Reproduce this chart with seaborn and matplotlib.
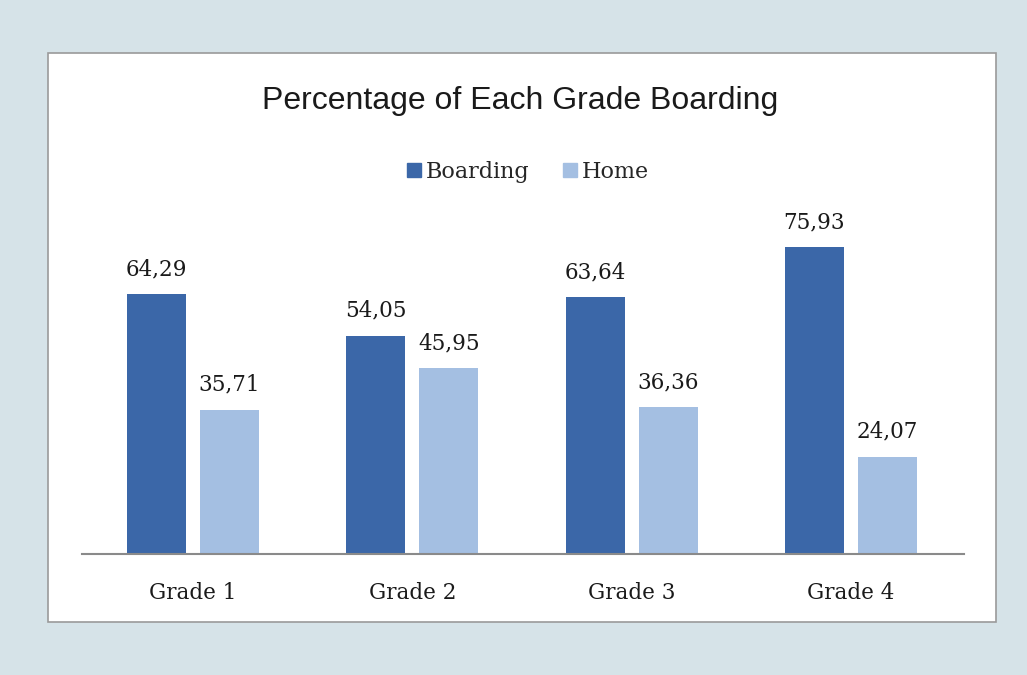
import numpy as np
import pandas as pd
import seaborn as sns
import matplotlib.pyplot as plt
from matplotlib.patches import Rectangle
from matplotlib.lines import Line2D

grades = ["Grade 1", "Grade 2", "Grade 3", "Grade 4"]
boarding = [64.29, 54.05, 63.64, 75.93]
home = [35.71, 45.95, 36.36, 24.07]
groups = ["Boarding", "Home"]
colors = ["#3B67A8", "#A4BFE2"]

df = pd.DataFrame({
    "grade": grades * 2,
    "value": boarding + home,
    "group": ["Boarding"] * len(grades) + ["Home"] * len(grades),
})

sns.set_theme(style="white")
plt.rcParams['font.family'] = ['DejaVu Serif']

W, H = 1027, 675
fig = plt.figure(figsize=(W / 100, H / 100), dpi=100)
fig.patch.set_facecolor("#D6E3E8")
# white panel behind the chart
fig.patches.append(Rectangle((48 / W, 1 - 622 / H), (996 - 48) / W, (622 - 53) / H,
                             transform=fig.transFigure, facecolor="white",
                             edgecolor="#9a9a9a", linewidth=1.2, zorder=-5))

left, right = 82, 964
ax = fig.add_axes([left / W, 1 - 554 / H, (right - left) / W, (554 - 200) / H])
ax.set_zorder(2)
ax.set_facecolor("none")
sns.barplot(data=df, x="grade", y="value", hue="group", palette=colors,
            width=0.666, gap=0.19, ax=ax, legend=False, saturation=1,
            edgecolor="none")

for cont in ax.containers:
    ax.bar_label(cont, labels=[f"{v:.2f}".replace(".", ",") for v in cont.datavalues],
                 padding=10, fontsize=15.5, color="#1a1a1a")

ax.set_ylim(0, 354 / 4.04)
spacing = 219.3
ax.set_xlim(-(193 - left) / spacing, 3 + (right - 851) / spacing)
ax.set_xlabel("")
ax.set_ylabel("")
ax.set_yticks([])
ax.tick_params(axis="x", length=0, pad=20, labelsize=15.5, labelcolor="#1a1a1a")
for s in ["top", "left", "right"]:
    ax.spines[s].set_visible(False)
ax.spines["bottom"].set_color("#8a8a8a")
ax.spines["bottom"].set_linewidth(1.5)

fig.text(520 / W, 1 - 101 / H, "Percentage of Each Grade Boarding",
         ha="center", va="center", fontsize=23, family="Liberation Sans", color="#1a1a1a")

handles = [Line2D([], [], marker="s", linestyle="", markersize=9.5, color=c) for c in colors]
fig.legend(handles, groups, loc="center", bbox_to_anchor=(527 / W, 1 - 172 / H),
           ncol=2, frameon=False, fontsize=16, handletextpad=0.15, columnspacing=1.4,
           handlelength=0.8)

fig.savefig("out.png", dpi=100, facecolor=fig.get_facecolor())
